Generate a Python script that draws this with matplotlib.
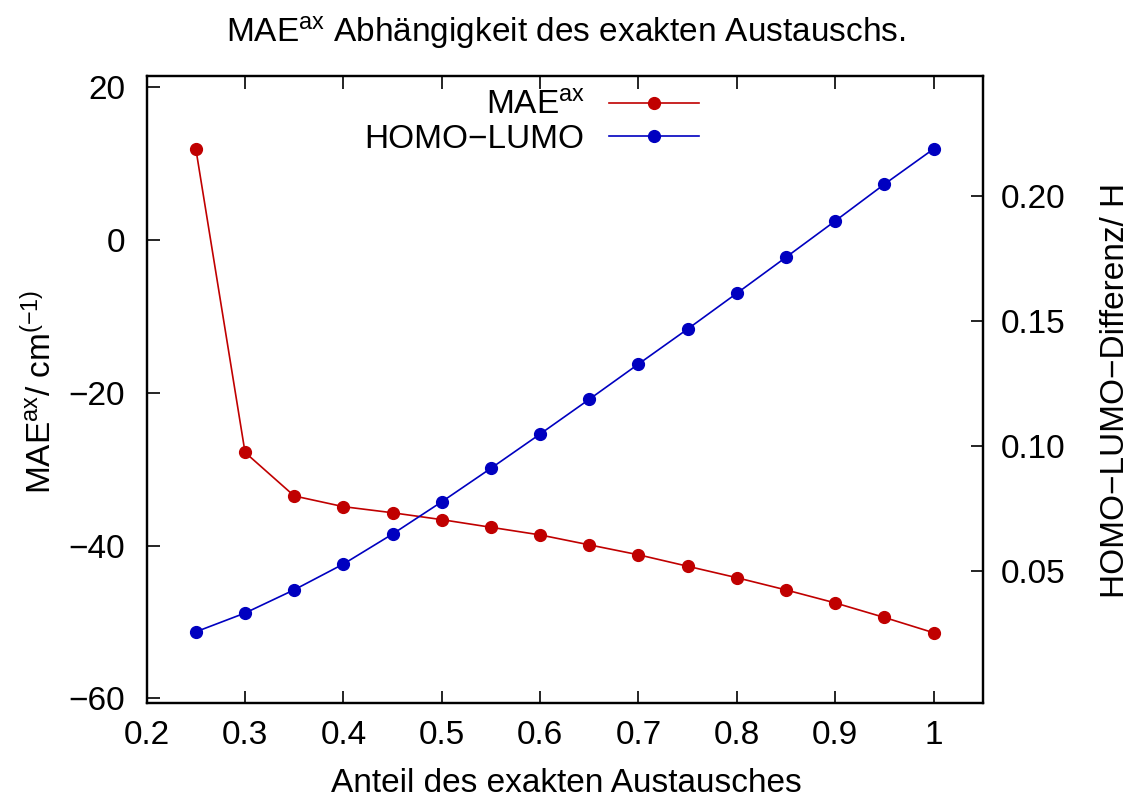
import matplotlib

matplotlib.use("Agg")
import matplotlib.pyplot as plt

# Anteil des exakten Austauschs
anteil = [0.25, 0.30, 0.35, 0.40, 0.45, 0.50, 0.55, 0.60,
          0.65, 0.70, 0.75, 0.80, 0.85, 0.90, 0.95, 1.00]

# MAE^ax in cm^-1 (linke Achse)
mae_ax = [11.9, -27.8, -33.5, -34.9, -35.7, -36.6, -37.6, -38.6,
          -39.9, -41.2, -42.7, -44.2, -45.8, -47.5, -49.4, -51.4]

# HOMO-LUMO-Differenz in Hartree (rechte Achse)
homo_lumo = [0.0257, 0.0332, 0.0425, 0.0528, 0.0648, 0.0777, 0.0911, 0.1048,
             0.1187, 0.1328, 0.1468, 0.1611, 0.1755, 0.1900, 0.2047, 0.2188]

x_ticks = [0.2, 0.3, 0.4, 0.5, 0.6, 0.7, 0.8, 0.9, 1.0]
x_tick_labels = ["0.2", "0.3", "0.4", "0.5", "0.6", "0.7", "0.8", "0.9", "1"]
y_left_ticks = [20, 0, -20, -40, -60]
y_right_ticks = [0.05, 0.10, 0.15, 0.20]
y_right_labels = ["0.05", "0.10", "0.15", "0.20"]

plt.rcParams["font.family"] = ["Liberation Sans", "DejaVu Sans"]
plt.rcParams["mathtext.fontset"] = "custom"
plt.rcParams["mathtext.rm"] = "Liberation Sans"
plt.rcParams["mathtext.it"] = "Liberation Sans"
plt.rcParams["mathtext.bf"] = "Liberation Sans:bold"

font_size = 24
red = "#c00000"
blue = "#0000c0"

W, H = 1132, 799
fig = plt.figure(figsize=(W / 100, H / 100), dpi=100)

left_px, right_px, top_px, bottom_px = 146.7, 982.7, 76, 703.3
ax = fig.add_axes([
    left_px / W,
    1 - bottom_px / H,
    (right_px - left_px) / W,
    (bottom_px - top_px) / H,
])
ax2 = ax.twinx()

line1, = ax.plot(anteil, mae_ax, color=red, lw=1.2, marker="o", ms=8.5,
                 label="MAE$^{\\mathrm{ax}}$")
line2, = ax2.plot(anteil, homo_lumo, color=blue, lw=1.2, marker="o", ms=8.5,
                  label="HOMO\u2212LUMO")

ax.set_xlim(0.2, 1.05)
ax.set_ylim(-60.64, 21.47)
ax2.set_ylim(-0.0029, 0.248)

ax.set_xticks(x_ticks)
ax.set_xticklabels(x_tick_labels)
ax.set_yticks(y_left_ticks)
ax2.set_yticks(y_right_ticks)
ax2.set_yticklabels(y_right_labels)

ax.tick_params(axis="x", direction="in", top=True, length=9, width=1.2,
               labelsize=font_size, pad=12)
ax.tick_params(axis="y", direction="in", right=False, length=9, width=1.2,
               labelsize=font_size, pad=15.5)
ax2.tick_params(axis="y", direction="in", length=9, width=1.2,
                labelsize=font_size, pad=13)

for a in (ax, ax2):
    for spine in a.spines.values():
        spine.set_linewidth(1.6)

leg = ax.legend(
    handles=[line1, line2],
    loc="upper right",
    bbox_to_anchor=(699 / W, 1 - 91 / H),
    bbox_transform=fig.transFigure,
    frameon=False,
    markerfirst=False,
    handlelength=2.7,
    handletextpad=0.73,
    labelspacing=0.05,
    borderpad=0,
    borderaxespad=0,
    fontsize=font_size,
)

fig.text(566 / W, 1 - 41.7 / H,
         "MAE$^{\\mathrm{ax}}$ Abhängigkeit des exakten Austauschs.",
         ha="center", va="baseline", fontsize=font_size)
fig.text(566 / W, 1 - 792 / H, "Anteil des exakten Austausches",
         ha="center", va="baseline", fontsize=font_size)
fig.text(40 / W, 1 - 392 / H,
         "MAE$^{\\mathrm{ax}}$/ cm$^{\\mathrm{(\u22121)}}$",
         ha="center", va="center", rotation=90, fontsize=font_size)
fig.text(1116 / W, 1 - 390 / H, "HOMO\u2212LUMO\u2212Differenz/ H",
         ha="center", va="center", rotation=90, fontsize=font_size)

fig.savefig("out.png", dpi=100)
plt.close(fig)
